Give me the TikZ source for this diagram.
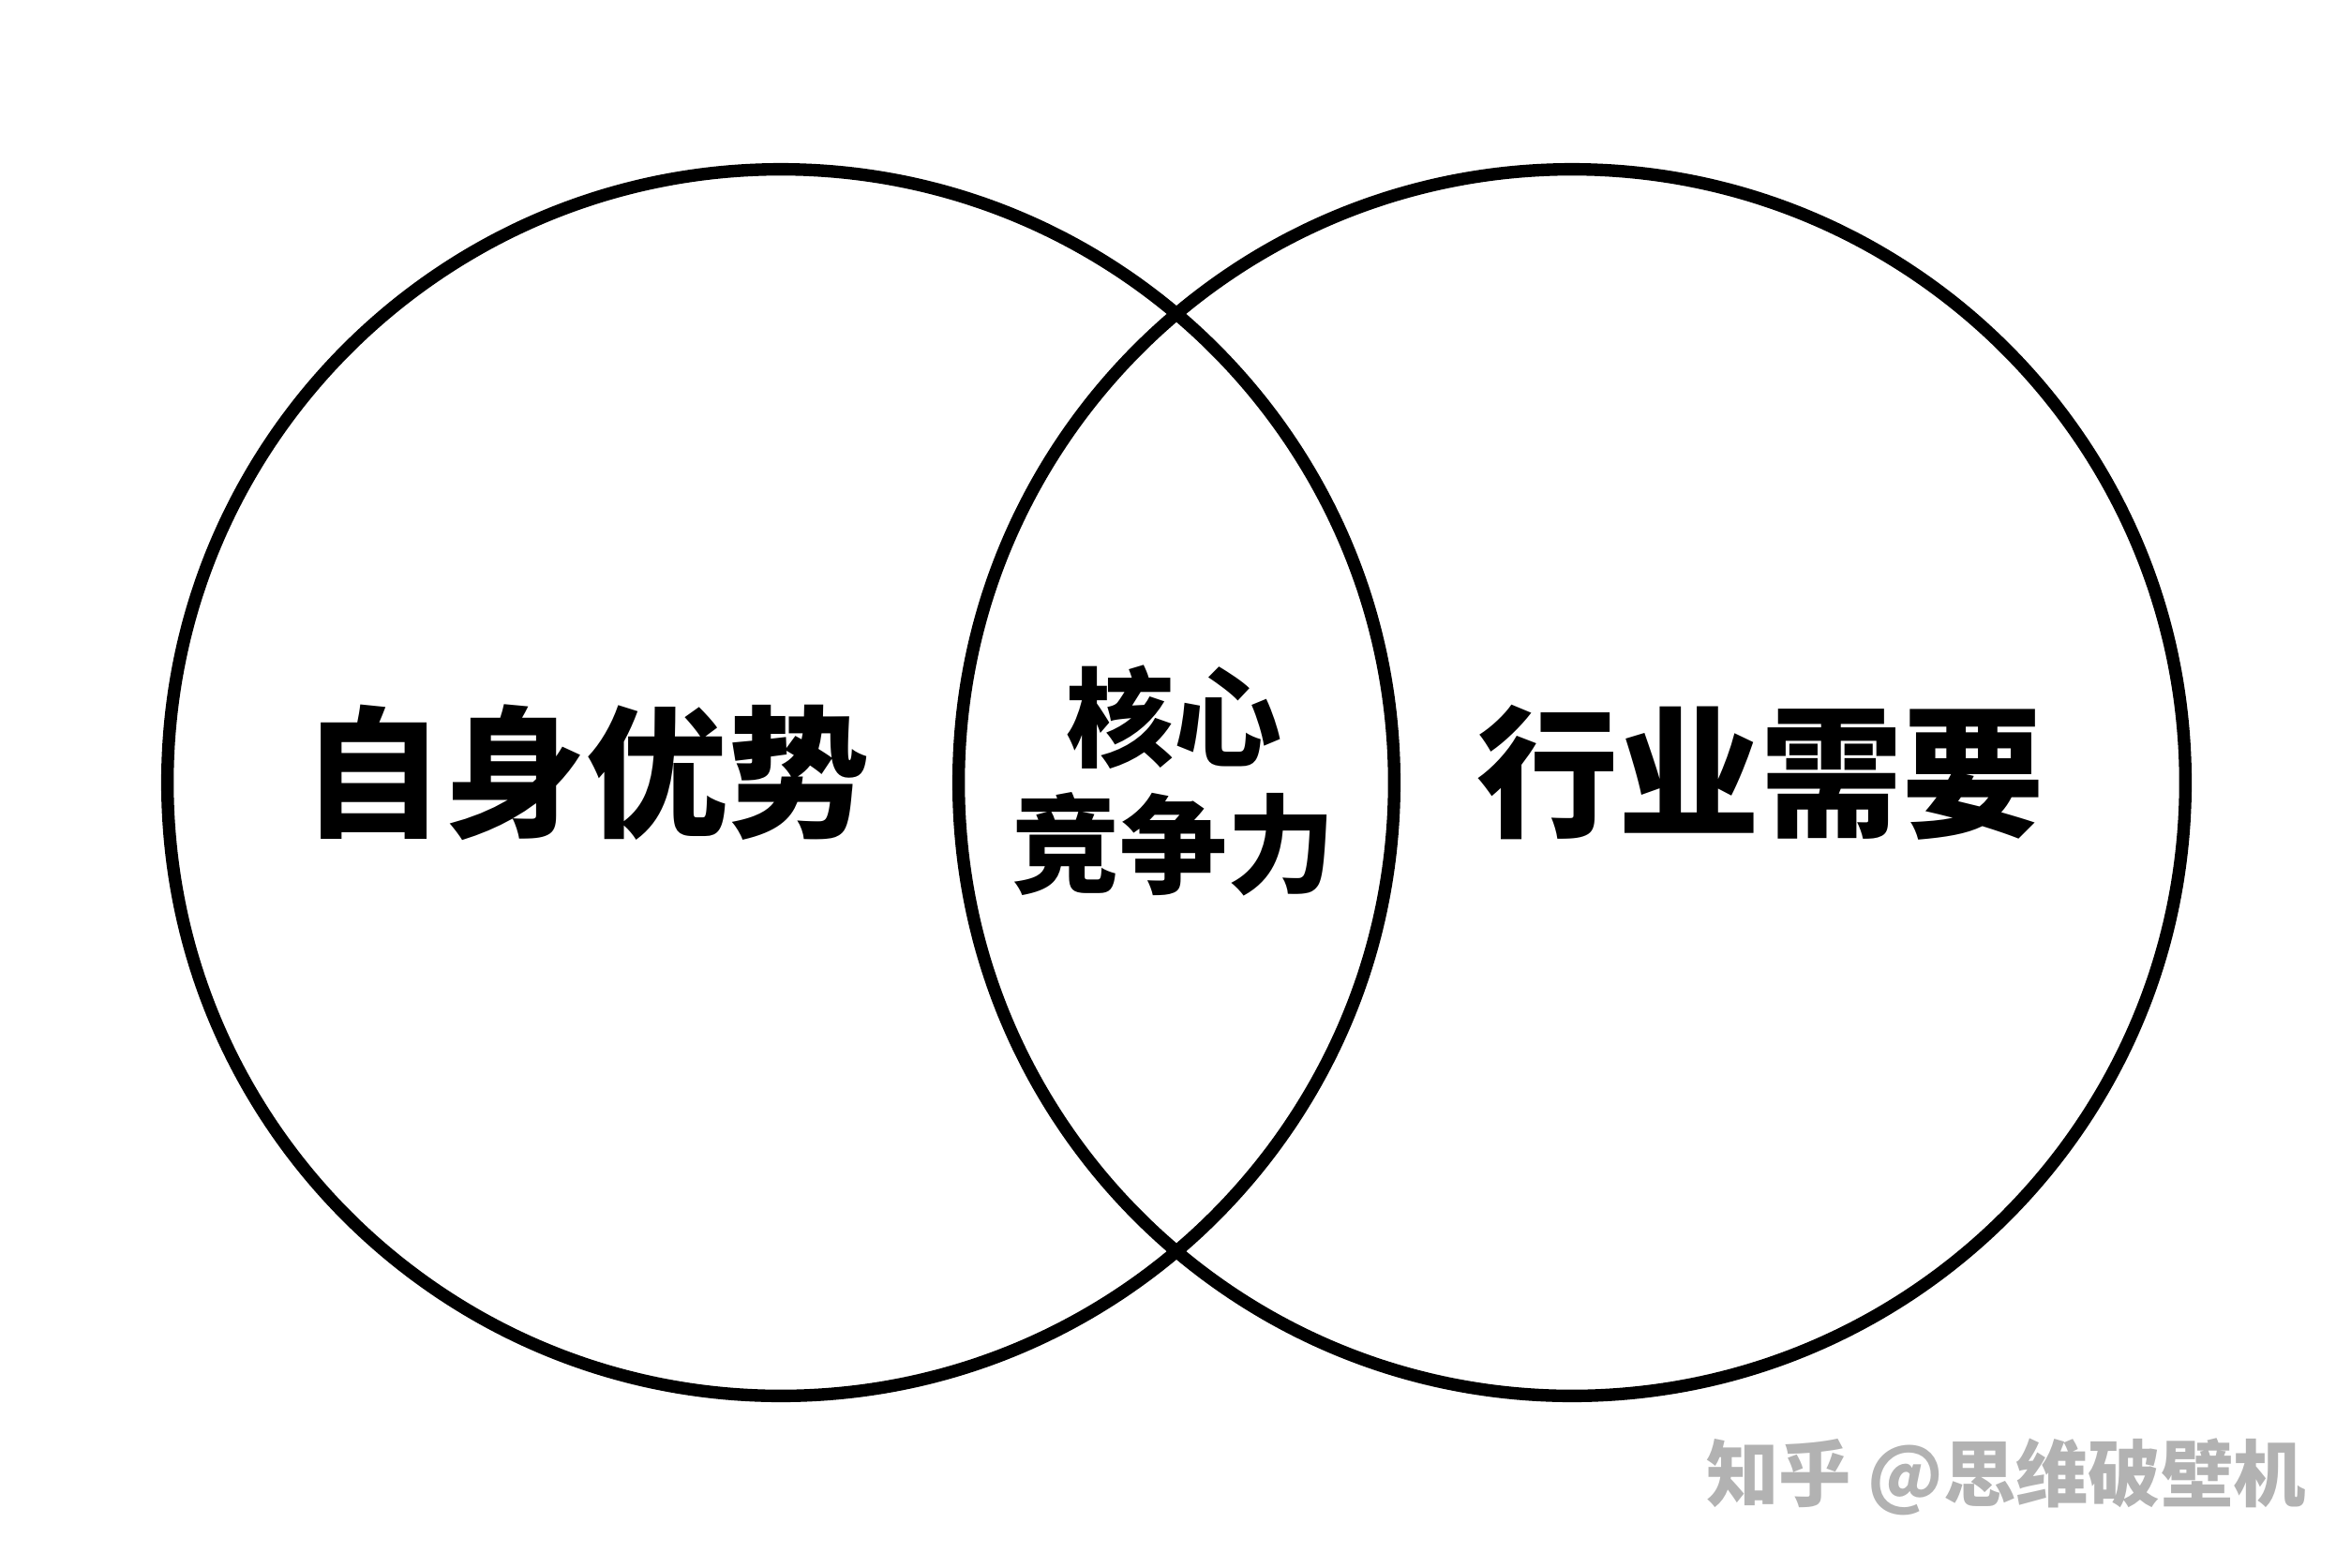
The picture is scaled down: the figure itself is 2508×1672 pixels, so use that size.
\documentclass[tikz,border=0pt]{standalone}
\usepackage{fontspec}
\newfontfamily\cjk{Noto Sans CJK SC}
\usetikzlibrary{positioning}

\begin{document}
\begin{tikzpicture}[x=0.01cm, y=-0.01cm,
    ring/.style={circle, draw, line width=3.8pt, minimum size=13.08cm, inner sep=0pt},
    biglabel/.style={font=\cjk\bfseries\fontsize{43}{50}\selectfont},
    midlabel/.style={align=center, font=\cjk\bfseries\fontsize{32.7}{38.4}\selectfont},
    wmark/.style={font=\cjk\bfseries\fontsize{22}{26}\selectfont, text=black!30},
]
\useasboundingbox (0,0) rectangle (2508,1672);
\node[ring] (self) at (833,835) {};
\node[ring] (industry) at (1677,835) {};
\node[biglabel] (selflbl) at (625,824) {自身优势};
\node[biglabel] (industrylbl) at (1878,824) {行业需要};
\node[midlabel] (core) at (1252,833) {核心\\竞争力};
\node[wmark] (watermark) at (2140,1576) {知乎 @思维破壁机};
\end{tikzpicture}
\end{document}
